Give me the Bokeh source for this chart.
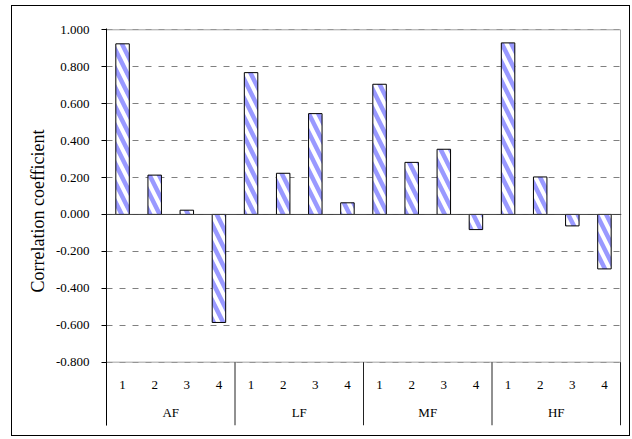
from bokeh.plotting import figure
from bokeh.models import Range1d, FixedTicker, NumeralTickFormatter, Span, Title, ColumnDataSource
from bokeh.core.properties import value
from bokeh.embed import file_html
from bokeh.resources import INLINE

# ---- data ----
groups = ["AF", "LF", "MF", "HF"]
subs = ["1", "2", "3", "4"]
af_vals = [0.924, 0.213, 0.023, -0.585]
lf_vals = [0.768, 0.223, 0.546, 0.063]
mf_vals = [0.705, 0.282, 0.353, -0.082]
hf_vals = [0.929, 0.203, -0.062, -0.295]
y_ticks = [-0.8, -0.6, -0.4, -0.2, 0.0, 0.2, 0.4, 0.6, 0.8, 1.0]
y_label = "Correlation coefficient"

series = [af_vals, lf_vals, mf_vals, hf_vals]
n_sub = len(subs)
n_slots = len(groups) * n_sub
Y_MIN, Y_MAX = y_ticks[0], y_ticks[-1]
Y_BOTTOM = -1.143          # lower end of the category band
Y_TOP = Y_MAX + 0.007

FONT = value("Liberation Serif")

xs, tops, sub_lab = [], [], []
for gi, vals in enumerate(series):
    for si, v in enumerate(vals):
        xs.append(gi * n_sub + si + 0.5)
        tops.append(v)
        sub_lab.append(subs[si])
bars = ColumnDataSource(dict(x=xs, top=tops, sub=sub_lab))
grp = ColumnDataSource(dict(x=[gi * n_sub + n_sub / 2 for gi in range(len(groups))], g=groups))
sep_x = [gi * n_sub for gi in range(len(groups) + 1)]

p = figure(width=619, height=431, output_backend="svg", toolbar_location=None,
           x_range=Range1d(0, n_slots * 515 / 514), y_range=Range1d(Y_BOTTOM, Y_TOP),
           x_axis_location=None, min_border_left=94, min_border_right=10,
           min_border_top=22, min_border_bottom=12)
p.margin = (5, 0, 0, 11)
p.styles = {"border": "1px solid black"}
p.outline_line_color = None
p.background_fill_color = "white"
p.border_fill_color = "white"

# grid
p.xgrid.visible = False
p.ygrid.ticker = FixedTicker(ticks=y_ticks)
p.ygrid.grid_line_color = "#808080"
p.ygrid.grid_line_dash = "6 7"
p.ygrid.grid_line_width = 1

# plot-area border
p.quad(left=[0], right=[n_slots], bottom=[Y_MIN], top=[Y_MAX], fill_color=None,
       line_color="#A0A0A0", line_width=1)

# bars
p.vbar(x="x", top="top", bottom=0, width=0.42, source=bars, fill_color="white",
       line_color="black", line_width=1, hatch_pattern="left_diagonal_line",
       hatch_color="#9999FF", hatch_weight=4.5, hatch_scale=19)

# zero line
p.add_layout(Span(location=0, dimension="width", line_color="#404040", line_width=1))

# category separators
p.segment(x0=sep_x, x1=sep_x, y0=[Y_MIN] * len(sep_x), y1=[Y_BOTTOM] * len(sep_x),
          line_color="#222222", line_width=1)

# category labels
p.text(x="x", y=-0.926, text="sub", source=bars, text_font=FONT, text_font_size="13px",
       text_align="center", text_baseline="middle", text_color="black")
p.text(x="x", y=-1.073, text="g", source=grp, text_font=FONT, text_font_size="13px",
       text_align="center", text_baseline="middle", text_color="black")

# y axis
ax = p.yaxis[0]
ax.ticker = FixedTicker(ticks=y_ticks)
ax.formatter = NumeralTickFormatter(format="0.000")
ax.axis_line_color = "black"
ax.major_tick_line_color = "black"
ax.major_tick_in = 0
ax.major_tick_out = 5
ax.minor_tick_line_color = None
ax.major_label_standoff = 12
ax.major_label_text_font = "Liberation Serif"
ax.major_label_text_font_size = "13px"
ax.major_label_text_color = "black"

p.add_layout(Title(text=y_label, align="left", offset=133, text_font="Liberation Serif",
                   text_font_size="18px", text_font_style="normal", text_color="black"), "left")

open("out.html", "w").write(file_html(p, INLINE))
